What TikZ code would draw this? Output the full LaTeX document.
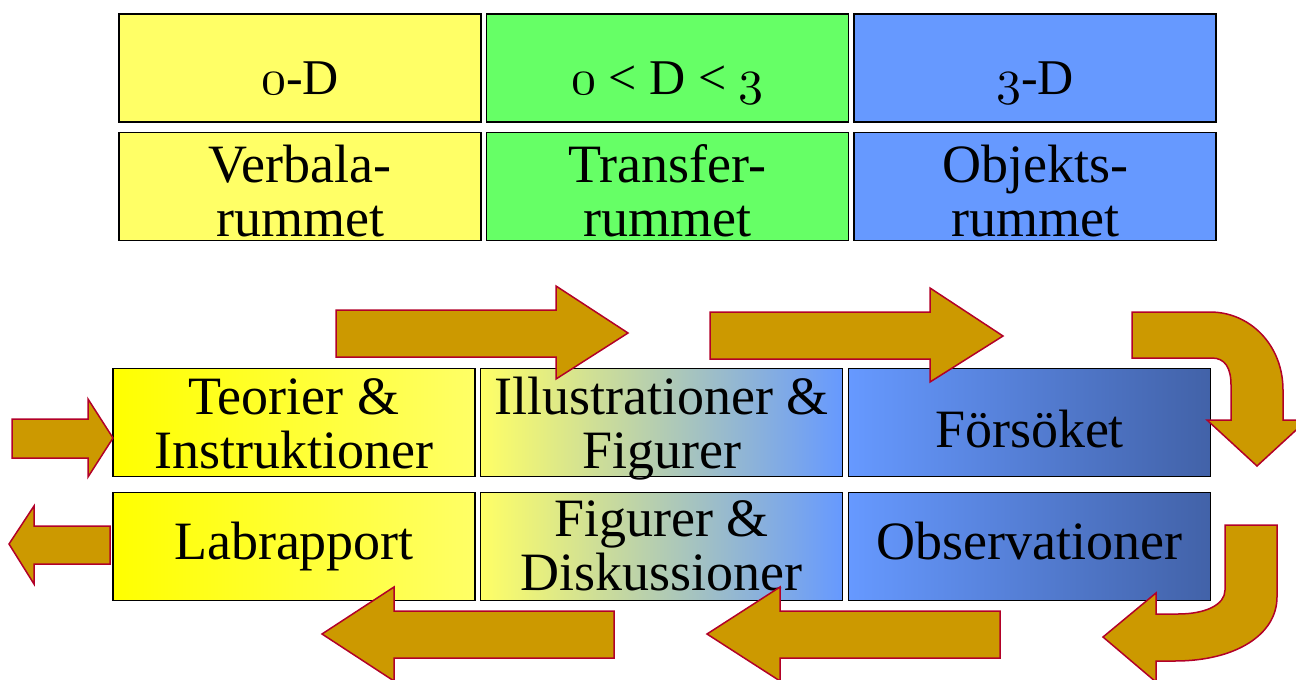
\documentclass[tikz,border=0pt]{standalone}
\usepackage{graphicx}
\usepackage{fontspec}
\setmainfont{Liberation Serif}
% old-style figures taken from the Computer Modern math italic font, scaled up
\newcommand\osnum[1]{\scalebox{5}{\fontsize{10}{12}\usefont{OML}{cmm}{m}{it}#1}}
\definecolor{arrowfill}{RGB}{204,153,0}
\definecolor{arrowline}{RGB}{178,0,40}
\definecolor{pyellow}{RGB}{255,255,102}
\definecolor{pgreen}{RGB}{102,255,102}
\definecolor{pblue}{RGB}{102,153,255}
\definecolor{dblue}{RGB}{66,98,168}
\definecolor{fyellow}{RGB}{255,255,0}
\begin{document}
\begin{tikzpicture}[x=1pt,y=-1pt,
  cell/.style={draw=black, line width=1.5pt, inner sep=0pt,
    minimum width=362pt, minimum height=108pt},
  head/.style={font=\fontsize{50}{54}\selectfont, anchor=base, inner sep=0pt},
  lbl/.style={font=\fontsize{54}{54}\selectfont, align=center, anchor=base, inner sep=0pt},
  blockarrow/.style={fill=arrowfill, draw=arrowline, line width=1.5pt, line join=miter}]
\useasboundingbox (0,0) rectangle (1296,680);
\clip (0,0) rectangle (1296,680);

% dimension header row
\node[cell, fill=pyellow] (dim0) at (300,68) {};
\node[cell, fill=pgreen]  (dim1) at (667.5,68) {};
\node[cell, fill=pblue]   (dim3) at (1035,68) {};
\node[head] at (300,94) {\osnum{0}-D};
\node[head] at (667.5,94) {\osnum{0} < D < \osnum{3}};
\node[head] at (1035,94) {\osnum{3}-D};

% room names (base anchor sits on the last line)
\node[cell, fill=pyellow] (verb) at (300,186.5) {};
\node[cell, fill=pgreen]  (trans) at (667.5,186.5) {};
\node[cell, fill=pblue]   (obj) at (1035,186.5) {};
\node[lbl] at (300,236) {Verbala-\\rummet};
\node[lbl] at (667.5,236) {Transfer-\\rummet};
\node[lbl] at (1035,236) {Objekts-\\rummet};

% working steps, forward row
\node[cell, left color=fyellow, right color=pyellow] (teori) at (294,422.5) {};
\node[cell, left color=pyellow, right color=pblue] (illu) at (661.5,422.5) {};
\node[cell, left color=pblue, right color=dblue] (fors) at (1029.5,422.5) {};
\node[lbl] at (294,468) {Teorier \&\\Instruktioner};
\node[lbl] at (661.5,468) {Illustrationer \&\\Figurer};
\node[lbl] at (1029.5,447) {Försöket};

% working steps, return row
\node[cell, left color=fyellow, right color=pyellow] (lab) at (294,546.5) {};
\node[cell, left color=pyellow, right color=pblue] (disk) at (661.5,546.5) {};
\node[cell, left color=pblue, right color=dblue] (obs) at (1029.5,546.5) {};
\node[lbl] at (294,559) {Labrapport};
\node[lbl] at (661.5,590) {Figurer \&\\Diskussioner};
\node[lbl] at (1029.5,559) {Observationer};

% straight block arrows
\draw[blockarrow] (12,419) -- (88,419) -- (88,399) -- (113,438) -- (88,477) -- (88,458) -- (12,458) -- cycle;
\draw[blockarrow] (110,526) -- (34,526) -- (34,506) -- (9,544) -- (34,584) -- (34,564) -- (110,564) -- cycle;
\draw[blockarrow] (336,310) -- (556,310) -- (556,286) -- (628,333) -- (556,379) -- (556,357) -- (336,357) -- cycle;
\draw[blockarrow] (710,312) -- (930,312) -- (930,288) -- (1003,336) -- (930,382) -- (930,359) -- (710,359) -- cycle;
\draw[blockarrow] (614,611) -- (394,611) -- (394,587) -- (322,634) -- (394,681) -- (394,658) -- (614,658) -- cycle;
\draw[blockarrow] (1000,611) -- (780,611) -- (780,587) -- (707,634) -- (780,681) -- (780,658) -- (1000,658) -- cycle;

% bent block arrows on the right
\draw[blockarrow] (1132,312) -- (1210,312)
  .. controls (1250,312) and (1283,345) .. (1283,390)
  -- (1283,420) -- (1307,420) -- (1257,466) -- (1207,420) -- (1231,420) -- (1231,385)
  .. controls (1231,368) and (1225,358) .. (1212,358)
  -- (1132,358) -- cycle;
\draw[blockarrow] (1225,525) -- (1277,525) -- (1277,597)
  .. controls (1277,635) and (1235,661) .. (1175,661)
  -- (1156,661) -- (1156,682) -- (1103,637) -- (1156,593) -- (1156,614) -- (1178,614)
  .. controls (1205,614) and (1225,605) .. (1225,590)
  -- cycle;
\end{tikzpicture}
\end{document}
